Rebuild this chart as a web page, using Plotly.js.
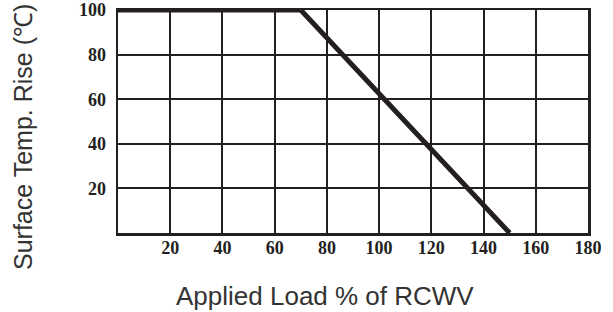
<!DOCTYPE html>
<html>
<head>
<meta charset="utf-8">
<script src="https://cdn.plot.ly/plotly-3.0.1.min.js"></script>
<style>html,body{margin:0;padding:0;background:#fff;}#chart{width:613px;height:312px;}</style>
</head>
<body>
<div id="chart"></div>
<script>
const loadPct = [0, 70, 150];
const tempRise = [100, 100, 0];
const xTicks = [20, 40, 60, 80, 100, 120, 140, 160, 180];
const yTicks = [20, 40, 60, 80, 100];
const xTitle = "Applied Load % of RCWV";
const yTitle = "Surface Temp. Rise (℃)";

const ink = "#231f20";
const tickFont = {family: "Liberation Serif, serif", size: 18, color: ink, weight: "bold"};
const titleFont = {family: "Liberation Sans, Arial, sans-serif", size: 26, color: "#333"};
const yTitleFont = {family: "Liberation Sans, Arial, sans-serif", size: 25, color: "#333"};

Plotly.newPlot("chart", [{
  x: loadPct, y: tempRise, type: "scatter", mode: "lines",
  line: {color: ink, width: 5}, cliponaxis: false, hoverinfo: "skip"
}], {
  width: 613, height: 312,
  margin: {l: 118, r: 25, t: 10, b: 79},
  paper_bgcolor: "#fff", plot_bgcolor: "#fff",
  showlegend: false,
  xaxis: {
    range: [0, 180], tickvals: xTicks, ticktext: xTicks.map(String),
    showgrid: true, gridcolor: ink, gridwidth: 2,
    showline: true, linecolor: ink, linewidth: 2.5, mirror: true,
    zeroline: false, ticks: "", tickfont: tickFont, automargin: false,
    ticklabeloverflow: "allow", ticklabelstandoff: -3
  },
  yaxis: {
    range: [0, 100], tickvals: yTicks, ticktext: yTicks.map(String),
    showgrid: true, gridcolor: ink, gridwidth: 2,
    showline: true, linecolor: ink, linewidth: 2.5, mirror: true,
    zeroline: false, ticks: "", tickfont: tickFont, automargin: false,
    ticklabelstandoff: 6, ticklabeloverflow: "allow"
  },
  annotations: [
    {text: xTitle, xref: "paper", yref: "paper", x: (324.5 - 118) / 470, y: -(296 - 233) / 223,
     xanchor: "center", yanchor: "middle", showarrow: false, font: titleFont},
    {text: yTitle, xref: "paper", yref: "paper", x: -(118 - 23) / 470, y: (233 - 137) / 223,
     xanchor: "center", yanchor: "middle", textangle: -90, showarrow: false, font: yTitleFont}
  ]
}, {staticPlot: true, displayModeBar: false});
</script>
</body>
</html>
